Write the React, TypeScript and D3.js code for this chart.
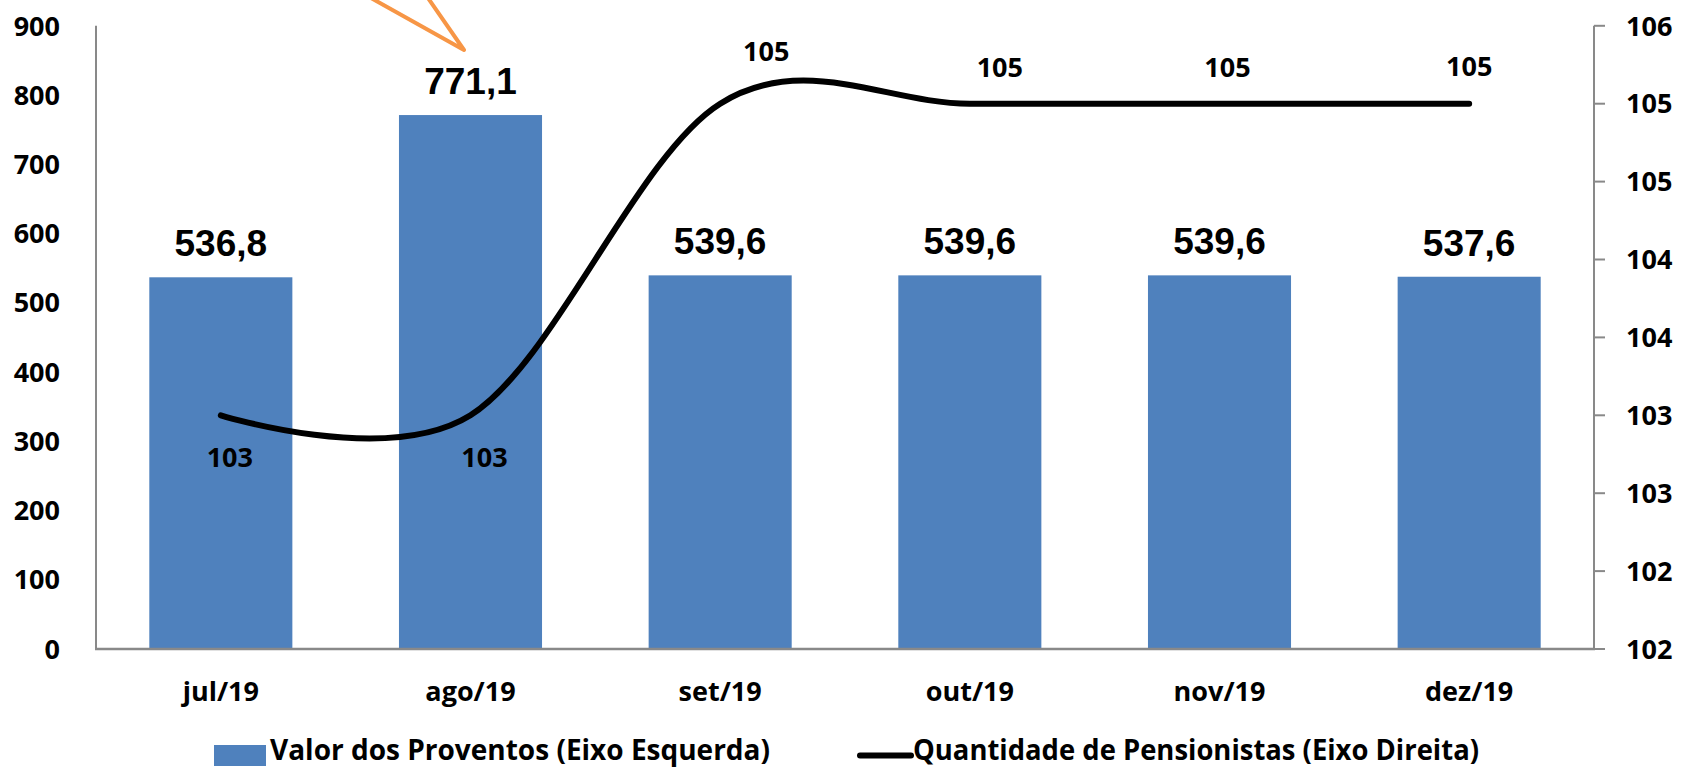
import React from 'react';
import * as d3 from 'd3';

// ---- data ----
const categories = ['jul/19', 'ago/19', 'set/19', 'out/19', 'nov/19', 'dez/19'];
const proventos = [536.8, 771.1, 539.6, 539.6, 539.6, 537.6];
const pensionistas = [103, 103, 105, 105, 105, 105];
const leftTicks = [0, 100, 200, 300, 400, 500, 600, 700, 800, 900];
const rightTicks = [101.5, 102, 102.5, 103, 103.5, 104, 104.5, 105, 105.5];
const legendLabels = ['Valor dos Proventos (Eixo Esquerda)', 'Quantidade de Pensionistas (Eixo Direita)'];

// ---- layout (not data) ----
const W = 1681;
const H = 769;
const plot = { left: 96, right: 1594, top: 25.8, bottom: 649 };
const lineLabelOffset = [
  [9, 42], [14, 42], [46, -52], [30, -36], [8, -36], [0, -37],
];
const BAR = '#4F81BD';
const AXIS = '#898989';
const AX_FONT = "'Open Sans', 'DejaVu Sans', sans-serif";
const VAL_FONT = "'Liberation Sans', Arial, sans-serif";

export default function App() {
  const x = d3.scaleBand<string>()
    .domain(categories)
    .range([plot.left, plot.right])
    .paddingInner(0.427)
    .paddingOuter(0.2135);
  const yL = d3.scaleLinear().domain([0, 900]).range([plot.bottom, plot.top]);
  const yR = d3.scaleLinear().domain([101.5, 105.5]).range([plot.bottom, plot.top]);
  const cx = (c: string) => (x(c) as number) + x.bandwidth() / 2;

  const line = d3.line<number>()
    .x((_, i) => cx(categories[i]))
    .y((d) => yR(d))
    .curve(d3.curveCardinal.tension(0));

  const fmtBar = (v: number) => v.toFixed(1).replace('.', ',');
  const fmtInt = d3.format('.0f');

  return (
    <svg width={W} height={H} viewBox={`0 0 ${W} ${H}`}
      style={{ position: 'absolute', left: 0, top: 0, display: 'block', background: '#fff' }}>
      <rect x={0} y={0} width={W} height={H} fill="#fff" />

      {/* bars */}
      {proventos.map((v, i) => (
        <rect key={'b' + i} x={x(categories[i])} y={yL(v)} width={x.bandwidth()}
          height={yL(0) - yL(v)} fill={BAR} />
      ))}

      {/* axes */}
      <line x1={plot.left} x2={plot.left} y1={plot.top} y2={plot.bottom} stroke={AXIS} strokeWidth={2} />
      <line x1={plot.right} x2={plot.right} y1={plot.top} y2={plot.bottom} stroke={AXIS} strokeWidth={2} />
      <line x1={plot.left - 1} x2={plot.right + 1} y1={plot.bottom} y2={plot.bottom} stroke={AXIS} strokeWidth={2.5} />
      {rightTicks.map((t, i) => (
        <line key={'rt' + i} x1={plot.right} x2={plot.right + 11} y1={yR(t)} y2={yR(t)} stroke={AXIS} strokeWidth={2} />
      ))}

      {/* left tick labels */}
      {leftTicks.map((t) => (
        <text key={'lt' + t} x={60} y={yL(t)} dy="0.36em" textAnchor="end"
          fontFamily={AX_FONT} fontWeight={700} fontSize={27} fill="#000">{t}</text>
      ))}
      {/* right tick labels */}
      {rightTicks.map((t, i) => (
        <text key={'rl' + i} x={1626} y={yR(t)} dy="0.36em" textAnchor="start"
          fontFamily={AX_FONT} fontWeight={700} fontSize={27} fill="#000">{fmtInt(t)}</text>
      ))}
      {/* category labels */}
      {categories.map((c) => (
        <text key={'c' + c} x={cx(c)} y={701} textAnchor="middle"
          fontFamily={AX_FONT} fontWeight={700} fontSize={27} fill="#000">{c}</text>
      ))}

      {/* bar value labels */}
      {proventos.map((v, i) => (
        <text key={'bv' + i} x={cx(categories[i])} y={yL(v) - 21} textAnchor="middle"
          fontFamily={VAL_FONT} fontWeight={700} fontSize={37} fill="#000">{fmtBar(v)}</text>
      ))}

      {/* line */}
      <path d={line(pensionistas) || ''} fill="none" stroke="#000" strokeWidth={6}
        strokeLinecap="round" strokeLinejoin="round" />
      {pensionistas.map((v, i) => (
        <text key={'lv' + i} x={cx(categories[i]) + lineLabelOffset[i][0]}
          y={yR(v) + lineLabelOffset[i][1]} dy="0.36em" textAnchor="middle"
          fontFamily={AX_FONT} fontWeight={700} fontSize={27} fill="#000">{fmtInt(v)}</text>
      ))}

      {/* orange callout pointer */}
      <polyline points="371,-2 464,50 428,-2" fill="none" stroke="#F79646" strokeWidth={4}
        strokeLinejoin="round" strokeLinecap="round" />

      {/* legend */}
      <rect x={214} y={745} width={52} height={21} fill={BAR} />
      <text x={270} y={760} fontFamily={AX_FONT} fontWeight={700} fontSize={29}
        textLength={500} lengthAdjust="spacingAndGlyphs" fill="#000">{legendLabels[0]}</text>
      <line x1={860} x2={911} y1={755.5} y2={755.5} stroke="#000" strokeWidth={6} strokeLinecap="round" />
      <text x={913} y={760} fontFamily={AX_FONT} fontWeight={700} fontSize={29}
        textLength={566} lengthAdjust="spacingAndGlyphs" fill="#000">{legendLabels[1]}</text>
    </svg>
  );
}
